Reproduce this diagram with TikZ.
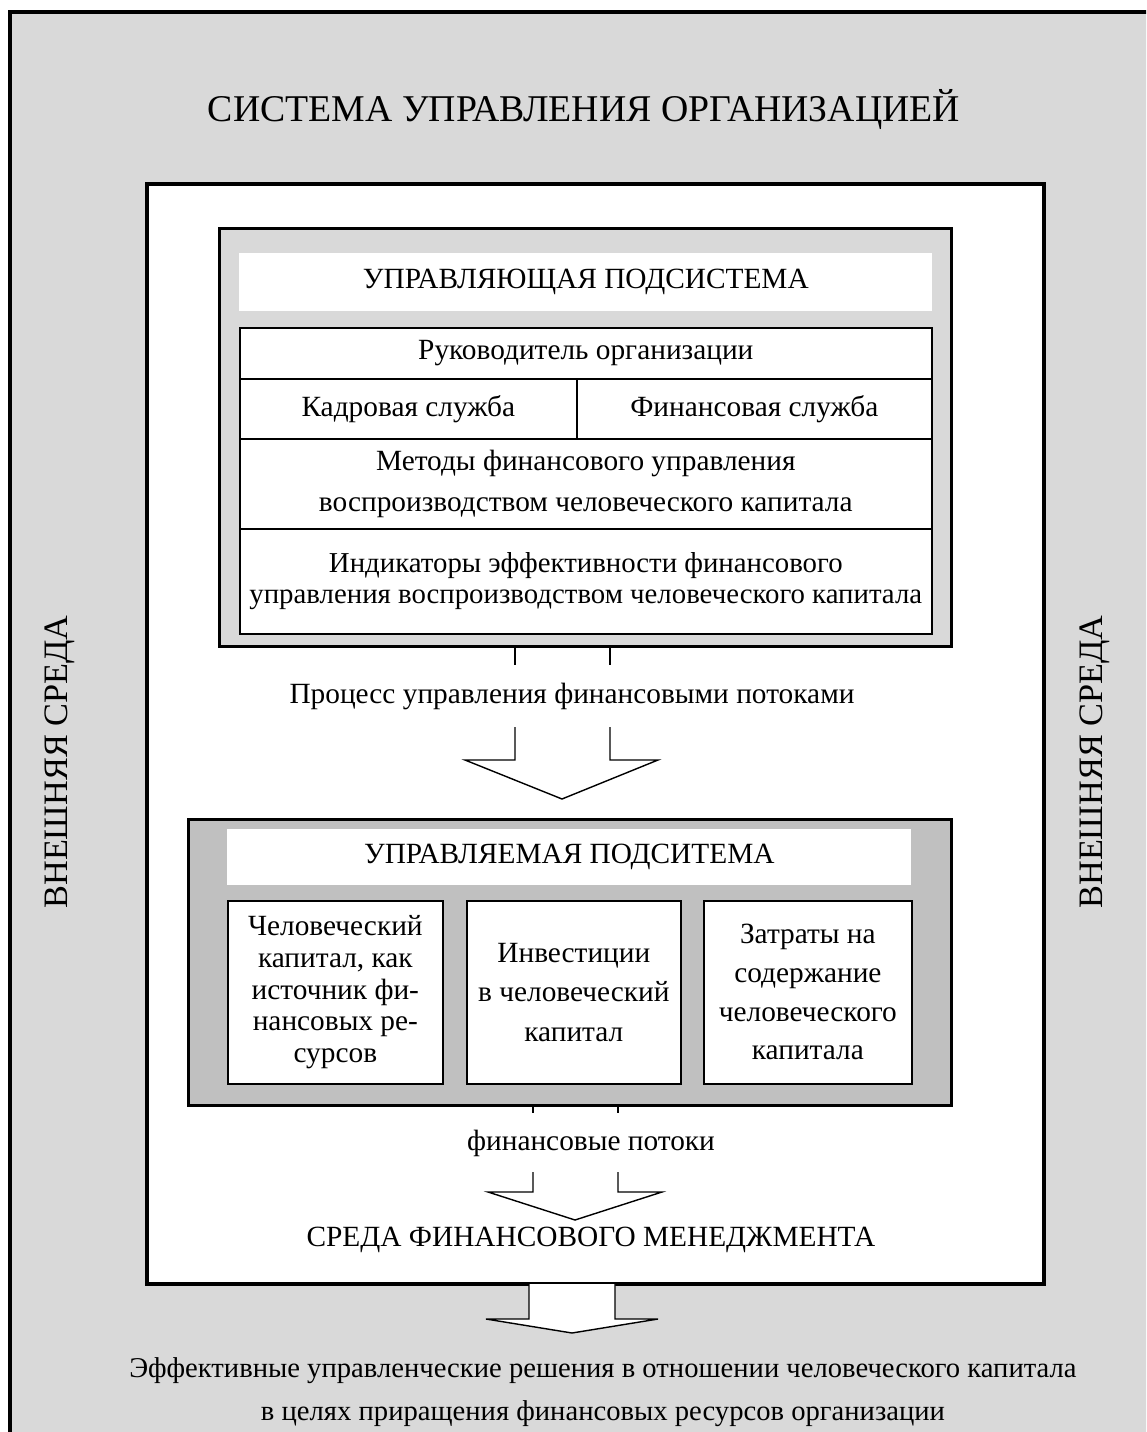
\documentclass[tikz,border=0pt]{standalone}
\usepackage{fontspec}
\setmainfont{Liberation Serif}
\usetikzlibrary{positioning}
\definecolor{envgray}{RGB}{217,217,217}
\definecolor{subgray}{RGB}{192,192,192}

\begin{document}
\begin{tikzpicture}[x=0.02cm, y=-0.02cm,
	txt/.style={font=\fontsize{16.7}{18}\selectfont, align=center, inner sep=0},
	big/.style={font=\fontsize{21.5}{24}\selectfont, inner sep=0},
	side/.style={font=\fontsize{19.5}{22}\selectfont, inner sep=0, rotate=90, anchor=base},
	frame/.style={draw, anchor=north west, inner sep=0},
	cell/.style={frame, line width=1pt, fill=white, txt},
	headbox/.style={anchor=north west, fill=white, inner sep=0, txt},
	flow/.style={line width=0.8pt}]
	%frame
	\useasboundingbox (0,0) rectangle (1146,1432);
	\clip (0,0) rectangle (1146,1432);
	\draw[line width=2.3pt, fill=envgray] (10,12) rectangle (1170,1460);
	\node[big, anchor=base] (sys) at (584,122) {СИСТЕМА УПРАВЛЕНИЯ ОРГАНИЗАЦИЕЙ};
	\node[side] (envl) at (67,762) {ВНЕШНЯЯ СРЕДА};
	\node[side] (envr) at (1102,762) {ВНЕШНЯЯ СРЕДА};
	\node[frame, line width=2.5pt, fill=white, minimum width=17.94cm, minimum height=22cm] (fm) at (145,182) {};
	
	%upper subsystem
	\node[frame, line width=1.7pt, fill=envgray, minimum width=14.64cm, minimum height=8.36cm] (ctrl) at (218,227) {};
	\node[headbox, minimum width=13.86cm, minimum height=1.16cm] (ctrlhead) at (239,253) {УПРАВЛЯЮЩАЯ ПОДСИСТЕМА};
	\node[cell, minimum width=13.84cm, minimum height=1.02cm] (boss) at (239,327) {Руководитель организации};
	\node[cell, minimum width=6.74cm, minimum height=1.2cm] (hr) at (239,378) {Кадровая служба};
	\node[cell, minimum width=7.1cm, minimum height=1.2cm] (fin) at (576,378) {Финансовая служба};
	\node[cell, minimum width=13.84cm, minimum height=1.8cm, font=\fontsize{16.7}{23.8}\selectfont] (methods) at (239,438)
	{Методы финансового управления\\воспроизводством человеческого капитала};
	\node[cell, minimum width=13.84cm, minimum height=2.1cm, font=\fontsize{16.4}{17.5}\selectfont] (kpi) at (239,528)
	{Индикаторы эффективности финансового\\управления воспроизводством человеческого капитала};
	
	%first arrow
	\draw[flow] (515,645) -- (515,665) (610,645) -- (610,665);
	\node[txt, anchor=base] (proc) at (572,703) {Процесс управления финансовыми потоками};
	\draw[flow] (515,727) -- (515,760) -- (465,760) -- (562,799) -- (658,760) -- (610,760) -- (610,727);
	
	%lower subsystem
	\node[frame, line width=1.7pt, fill=subgray, minimum width=15.26cm, minimum height=5.72cm] (obj) at (187,818) {};
	\node[headbox, minimum width=13.68cm, minimum height=1.12cm] (objhead) at (227,829) {УПРАВЛЯЕМАЯ ПОДСИТЕМА};
	\node[cell, minimum width=4.3cm, minimum height=3.66cm, font=\fontsize{16.7}{18}\selectfont] (src) at (227,900)
	{Человеческий\\капитал, как\\источник фи-\\нансовых ре-\\сурсов};
	\node[cell, minimum width=4.28cm, minimum height=3.66cm, font=\fontsize{16.7}{22.4}\selectfont] (inv) at (466,900)
	{Инвестиции\\в человеческий\\капитал};
	\node[cell, minimum width=4.16cm, minimum height=3.66cm, font=\fontsize{16.7}{22}\selectfont] (cost) at (703,900)
	{Затраты на\\содержание\\человеческого\\капитала};
	
	%second arrow
	\draw[flow] (533,1104) -- (533,1113) (618,1104) -- (618,1113);
	\node[txt, anchor=base] (flows) at (591,1150) {финансовые потоки};
	\draw[flow] (533,1172) -- (533,1192) -- (488,1192) -- (575,1220) -- (662,1192) -- (618,1192) -- (618,1172);
	\node[txt, anchor=base] (fmname) at (591,1246) {СРЕДА ФИНАНСОВОГО МЕНЕДЖМЕНТА};
	
	%result
	\filldraw[flow, fill=white] (529,1284) -- (529,1319) -- (486,1319) -- (572,1333) -- (658,1319) -- (615,1319) -- (615,1284);
	\node[txt, font=\fontsize{16.3}{18}\selectfont, anchor=base] (res1) at (603,1377) {Эффективные управленческие решения в отношении человеческого капитала};
	\node[txt, font=\fontsize{16.3}{18}\selectfont, anchor=base] (res2) at (603,1420) {в целях приращения финансовых ресурсов организации};
\end{tikzpicture}
\end{document}
